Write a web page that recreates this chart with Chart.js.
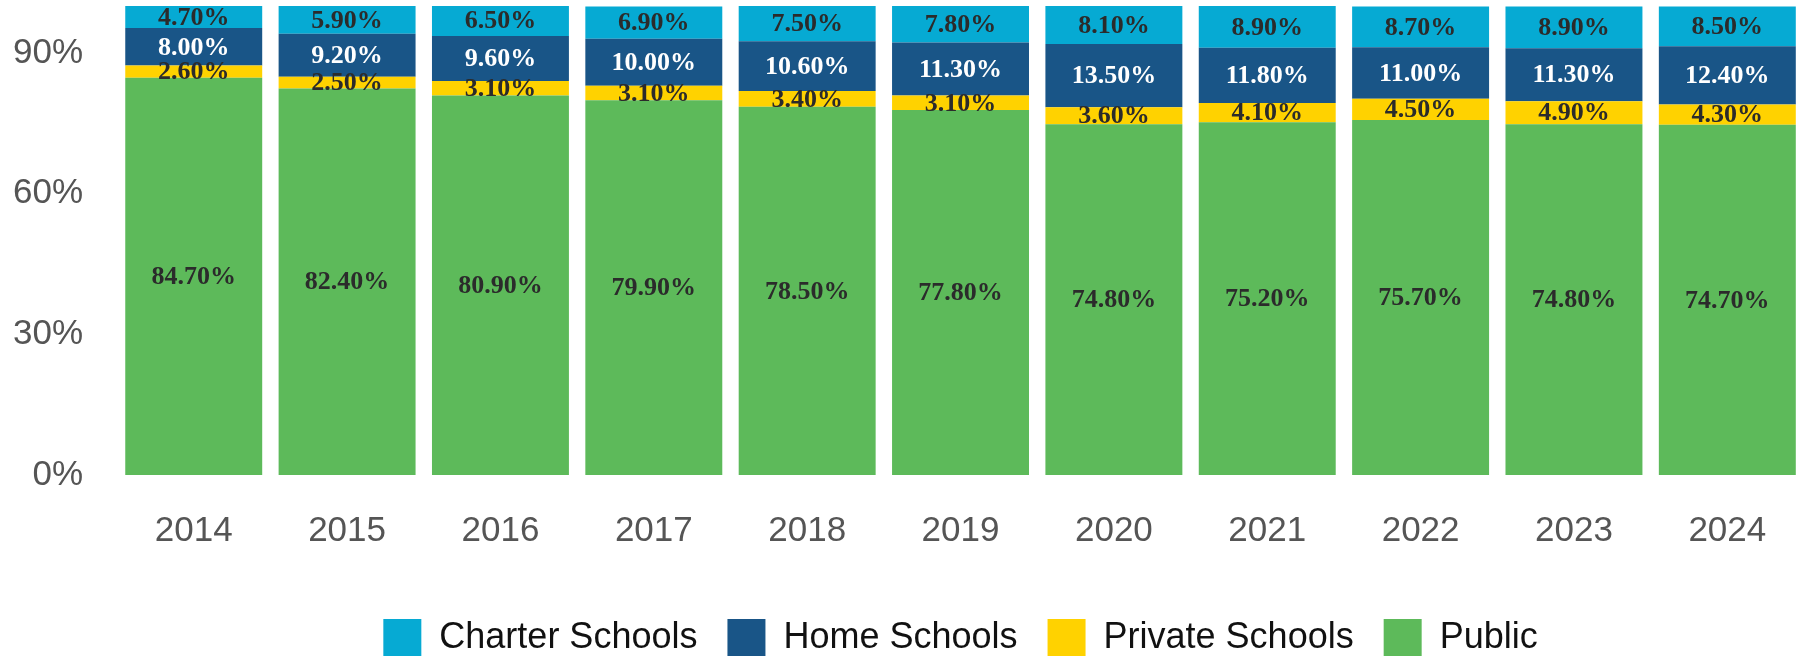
<!DOCTYPE html>
<html>
<head>
<meta charset="utf-8">
<script src="https://cdn.jsdelivr.net/npm/chart.js@4"></script>
<style>
  body { margin: 0; background: #fff; }
  #wrap { width: 1804px; height: 656px; position: relative; }
</style>
</head>
<body>
<div id="wrap"><canvas id="schoolChart"></canvas></div>
<script>
// Données
const years = ["2014", "2015", "2016", "2017", "2018", "2019", "2020", "2021", "2022", "2023", "2024"];
const publicSchools = [84.7, 82.4, 80.9, 79.9, 78.5, 77.8, 74.8, 75.2, 75.7, 74.8, 74.7];
const privateSchools = [2.6, 2.5, 3.1, 3.1, 3.4, 3.1, 3.6, 4.1, 4.5, 4.9, 4.3];
const homeSchools = [8.0, 9.2, 9.6, 10.0, 10.6, 11.3, 13.5, 11.8, 11.0, 11.3, 12.4];
const charterSchools = [4.7, 5.9, 6.5, 6.9, 7.5, 7.8, 8.1, 8.9, 8.7, 8.9, 8.5];
const yTicks = [0, 30, 60, 90];

// Etiquettes au centre de chaque segment
const segmentLabels = {
  id: "segmentLabels",
  afterDatasetsDraw(chart) {
    const ctx = chart.ctx;
    ctx.save();
    ctx.font = "bold 26px 'Liberation Serif', 'Times New Roman', serif";
    ctx.textAlign = "center";
    ctx.textBaseline = "middle";
    chart.data.datasets.forEach((ds, i) => {
      const meta = chart.getDatasetMeta(i);
      if (meta.hidden) return;
      meta.data.forEach((bar, j) => {
        const p = bar.getProps(["x", "y", "base"], true);
        ctx.fillStyle = ds.labelColor;
        ctx.fillText(ds.data[j].toFixed(2) + "%", p.x, (p.y + p.base) / 2 + 1);
      });
    });
    ctx.restore();
  }
};

const ctx = document.getElementById("schoolChart").getContext("2d");
new Chart(ctx, {
  type: "bar",
  data: {
    labels: years,
    datasets: [
      { label: "Public", data: publicSchools, backgroundColor: "#5dba5a", labelColor: "#2b2b2b" },
      { label: "Private Schools", data: privateSchools, backgroundColor: "#ffd200", labelColor: "#2b2b2b" },
      { label: "Home Schools", data: homeSchools, backgroundColor: "#195587", labelColor: "#ffffff" },
      { label: "Charter Schools", data: charterSchools, backgroundColor: "#06aad3", labelColor: "#2b2b2b" }
    ]
  },
  options: {
    responsive: true,
    maintainAspectRatio: false,
    animation: false,
    layout: { padding: { top: 6, left: 13, right: 0, bottom: -11 } },
    datasets: {
      bar: { barPercentage: 0.893, categoryPercentage: 1, borderWidth: 0 }
    },
    scales: {
      x: {
        stacked: true,
        grid: { display: false, drawTicks: true, tickLength: 35 },
        border: { display: false },
        ticks: {
          color: "#555",
          font: { family: "'Liberation Sans', Arial, sans-serif", size: 35 },
          padding: 0,
          maxRotation: 0
        },
        afterFit: scale => { scale.height += 37; }
      },
      y: {
        stacked: true,
        min: 0,
        max: 100,
        grid: { display: false, drawTicks: true, tickLength: 34 },
        border: { display: false },
        afterBuildTicks: scale => {
          scale.ticks = yTicks.map(v => ({ value: v }));
        },
        afterFit: scale => {
          // le 90% n'est pas en haut : pas besoin de marge
          scale.paddingTop = 0;
          scale.paddingBottom = 0;
        },
        ticks: {
          color: "#555",
          font: { family: "'Liberation Sans', Arial, sans-serif", size: 35 },
          padding: 0,
          callback: v => v + "%"
        }
      }
    },
    plugins: {
      legend: {
        position: "bottom",
        fullSize: false,
        reverse: true,
        labels: {
          color: "#111",
          font: { family: "'Liberation Sans', Arial, sans-serif", size: 36 },
          boxWidth: 38,
          boxHeight: 38,
          padding: 30
        }
      },
      tooltip: { enabled: false }
    }
  },
  plugins: [segmentLabels]
});
</script>
</body>
</html>
